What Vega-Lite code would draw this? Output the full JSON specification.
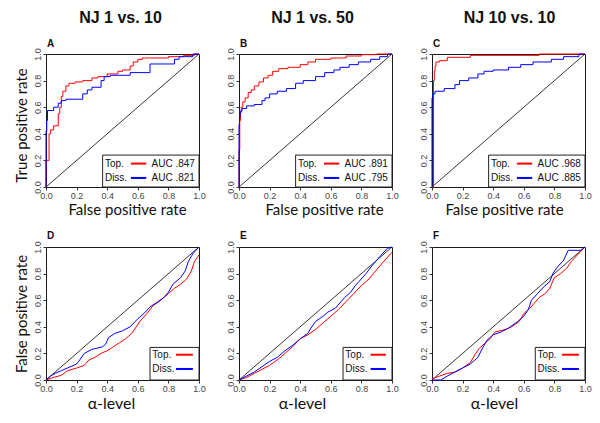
{
"$schema":"https://vega.github.io/schema/vega-lite/v6.json",
"padding":{"left":13,"top":9,"right":9,"bottom":13},
"background":"white",
"datasets":{"roc":[
{"p":"A","s":"Top.","x":0,"y":0},{"p":"A","s":"Top.","x":0.02,"y":0.2},{"p":"A","s":"Top.","x":0.03,"y":0.4},{"p":"A","s":"Top.","x":0.05,"y":0.43},{"p":"A","s":"Top.","x":0.08,"y":0.46},{"p":"A","s":"Top.","x":0.09,"y":0.55},{"p":"A","s":"Top.","x":0.1,"y":0.6},{"p":"A","s":"Top.","x":0.11,"y":0.68},{"p":"A","s":"Top.","x":0.13,"y":0.72},{"p":"A","s":"Top.","x":0.15,"y":0.76},{"p":"A","s":"Top.","x":0.19,"y":0.78},{"p":"A","s":"Top.","x":0.24,"y":0.79},{"p":"A","s":"Top.","x":0.3,"y":0.8},{"p":"A","s":"Top.","x":0.34,"y":0.82},{"p":"A","s":"Top.","x":0.4,"y":0.83},{"p":"A","s":"Top.","x":0.47,"y":0.85},{"p":"A","s":"Top.","x":0.5,"y":0.87},{"p":"A","s":"Top.","x":0.55,"y":0.88},{"p":"A","s":"Top.","x":0.57,"y":0.91},{"p":"A","s":"Top.","x":0.6,"y":0.94},{"p":"A","s":"Top.","x":0.63,"y":0.96},{"p":"A","s":"Top.","x":0.8,"y":0.97},{"p":"A","s":"Top.","x":0.9,"y":0.98},{"p":"A","s":"Top.","x":0.97,"y":0.99},{"p":"A","s":"Top.","x":1,"y":1},
{"p":"A","s":"Diss.","x":0,"y":0},{"p":"A","s":"Diss.","x":0.005,"y":0.42},{"p":"A","s":"Diss.","x":0.01,"y":0.5},{"p":"A","s":"Diss.","x":0.05,"y":0.575},{"p":"A","s":"Diss.","x":0.08,"y":0.6},{"p":"A","s":"Diss.","x":0.1,"y":0.63},{"p":"A","s":"Diss.","x":0.13,"y":0.65},{"p":"A","s":"Diss.","x":0.24,"y":0.66},{"p":"A","s":"Diss.","x":0.27,"y":0.7},{"p":"A","s":"Diss.","x":0.3,"y":0.73},{"p":"A","s":"Diss.","x":0.36,"y":0.75},{"p":"A","s":"Diss.","x":0.38,"y":0.8},{"p":"A","s":"Diss.","x":0.42,"y":0.83},{"p":"A","s":"Diss.","x":0.55,"y":0.84},{"p":"A","s":"Diss.","x":0.68,"y":0.86},{"p":"A","s":"Diss.","x":0.84,"y":0.925},{"p":"A","s":"Diss.","x":0.87,"y":0.96},{"p":"A","s":"Diss.","x":0.96,"y":0.98},{"p":"A","s":"Diss.","x":1,"y":1},
{"p":"B","s":"Top.","x":0,"y":0},{"p":"B","s":"Top.","x":0.005,"y":0.28},{"p":"B","s":"Top.","x":0.01,"y":0.5},{"p":"B","s":"Top.","x":0.015,"y":0.56},{"p":"B","s":"Top.","x":0.025,"y":0.6},{"p":"B","s":"Top.","x":0.04,"y":0.64},{"p":"B","s":"Top.","x":0.06,"y":0.67},{"p":"B","s":"Top.","x":0.08,"y":0.71},{"p":"B","s":"Top.","x":0.1,"y":0.73},{"p":"B","s":"Top.","x":0.13,"y":0.76},{"p":"B","s":"Top.","x":0.16,"y":0.79},{"p":"B","s":"Top.","x":0.19,"y":0.82},{"p":"B","s":"Top.","x":0.22,"y":0.84},{"p":"B","s":"Top.","x":0.26,"y":0.87},{"p":"B","s":"Top.","x":0.32,"y":0.89},{"p":"B","s":"Top.","x":0.4,"y":0.9},{"p":"B","s":"Top.","x":0.45,"y":0.92},{"p":"B","s":"Top.","x":0.5,"y":0.94},{"p":"B","s":"Top.","x":0.6,"y":0.96},{"p":"B","s":"Top.","x":0.7,"y":0.97},{"p":"B","s":"Top.","x":0.8,"y":0.985},{"p":"B","s":"Top.","x":0.9,"y":0.995},{"p":"B","s":"Top.","x":1,"y":1},
{"p":"B","s":"Diss.","x":0,"y":0},{"p":"B","s":"Diss.","x":0.003,"y":0.47},{"p":"B","s":"Diss.","x":0.008,"y":0.53},{"p":"B","s":"Diss.","x":0.02,"y":0.57},{"p":"B","s":"Diss.","x":0.05,"y":0.59},{"p":"B","s":"Diss.","x":0.1,"y":0.61},{"p":"B","s":"Diss.","x":0.15,"y":0.62},{"p":"B","s":"Diss.","x":0.17,"y":0.65},{"p":"B","s":"Diss.","x":0.2,"y":0.67},{"p":"B","s":"Diss.","x":0.25,"y":0.7},{"p":"B","s":"Diss.","x":0.31,"y":0.72},{"p":"B","s":"Diss.","x":0.37,"y":0.74},{"p":"B","s":"Diss.","x":0.42,"y":0.78},{"p":"B","s":"Diss.","x":0.5,"y":0.8},{"p":"B","s":"Diss.","x":0.56,"y":0.83},{"p":"B","s":"Diss.","x":0.62,"y":0.86},{"p":"B","s":"Diss.","x":0.66,"y":0.88},{"p":"B","s":"Diss.","x":0.72,"y":0.9},{"p":"B","s":"Diss.","x":0.78,"y":0.92},{"p":"B","s":"Diss.","x":0.86,"y":0.94},{"p":"B","s":"Diss.","x":0.92,"y":0.96},{"p":"B","s":"Diss.","x":0.97,"y":0.98},{"p":"B","s":"Diss.","x":1,"y":1},
{"p":"C","s":"Top.","x":0,"y":0},{"p":"C","s":"Top.","x":0.01,"y":0},{"p":"C","s":"Top.","x":0.015,"y":0.8},{"p":"C","s":"Top.","x":0.02,"y":0.87},{"p":"C","s":"Top.","x":0.026,"y":0.91},{"p":"C","s":"Top.","x":0.05,"y":0.94},{"p":"C","s":"Top.","x":0.1,"y":0.95},{"p":"C","s":"Top.","x":0.25,"y":0.975},{"p":"C","s":"Top.","x":0.7,"y":0.99},{"p":"C","s":"Top.","x":1,"y":1},
{"p":"C","s":"Diss.","x":0,"y":0},{"p":"C","s":"Diss.","x":0.005,"y":0.67},{"p":"C","s":"Diss.","x":0.02,"y":0.7},{"p":"C","s":"Diss.","x":0.08,"y":0.72},{"p":"C","s":"Diss.","x":0.15,"y":0.74},{"p":"C","s":"Diss.","x":0.18,"y":0.77},{"p":"C","s":"Diss.","x":0.24,"y":0.8},{"p":"C","s":"Diss.","x":0.3,"y":0.82},{"p":"C","s":"Diss.","x":0.34,"y":0.85},{"p":"C","s":"Diss.","x":0.4,"y":0.87},{"p":"C","s":"Diss.","x":0.5,"y":0.88},{"p":"C","s":"Diss.","x":0.58,"y":0.9},{"p":"C","s":"Diss.","x":0.66,"y":0.92},{"p":"C","s":"Diss.","x":0.78,"y":0.94},{"p":"C","s":"Diss.","x":0.86,"y":0.96},{"p":"C","s":"Diss.","x":0.96,"y":0.98},{"p":"C","s":"Diss.","x":1,"y":1},
{"p":"D","s":"Top.","x":0,"y":0},{"p":"D","s":"Top.","x":0.05,"y":0.02},{"p":"D","s":"Top.","x":0.1,"y":0.035},{"p":"D","s":"Top.","x":0.14,"y":0.07},{"p":"D","s":"Top.","x":0.2,"y":0.09},{"p":"D","s":"Top.","x":0.25,"y":0.11},{"p":"D","s":"Top.","x":0.28,"y":0.15},{"p":"D","s":"Top.","x":0.32,"y":0.17},{"p":"D","s":"Top.","x":0.36,"y":0.2},{"p":"D","s":"Top.","x":0.4,"y":0.22},{"p":"D","s":"Top.","x":0.44,"y":0.25},{"p":"D","s":"Top.","x":0.48,"y":0.28},{"p":"D","s":"Top.","x":0.52,"y":0.31},{"p":"D","s":"Top.","x":0.56,"y":0.35},{"p":"D","s":"Top.","x":0.59,"y":0.4},{"p":"D","s":"Top.","x":0.62,"y":0.45},{"p":"D","s":"Top.","x":0.66,"y":0.5},{"p":"D","s":"Top.","x":0.7,"y":0.56},{"p":"D","s":"Top.","x":0.74,"y":0.59},{"p":"D","s":"Top.","x":0.8,"y":0.65},{"p":"D","s":"Top.","x":0.84,"y":0.69},{"p":"D","s":"Top.","x":0.88,"y":0.72},{"p":"D","s":"Top.","x":0.92,"y":0.76},{"p":"D","s":"Top.","x":0.95,"y":0.82},{"p":"D","s":"Top.","x":0.97,"y":0.89},{"p":"D","s":"Top.","x":1,"y":0.94},
{"p":"D","s":"Diss.","x":0,"y":0},{"p":"D","s":"Diss.","x":0.03,"y":0.03},{"p":"D","s":"Diss.","x":0.06,"y":0.05},{"p":"D","s":"Diss.","x":0.1,"y":0.07},{"p":"D","s":"Diss.","x":0.14,"y":0.09},{"p":"D","s":"Diss.","x":0.2,"y":0.12},{"p":"D","s":"Diss.","x":0.22,"y":0.15},{"p":"D","s":"Diss.","x":0.25,"y":0.2},{"p":"D","s":"Diss.","x":0.3,"y":0.23},{"p":"D","s":"Diss.","x":0.37,"y":0.25},{"p":"D","s":"Diss.","x":0.39,"y":0.27},{"p":"D","s":"Diss.","x":0.41,"y":0.32},{"p":"D","s":"Diss.","x":0.45,"y":0.35},{"p":"D","s":"Diss.","x":0.5,"y":0.37},{"p":"D","s":"Diss.","x":0.55,"y":0.4},{"p":"D","s":"Diss.","x":0.6,"y":0.46},{"p":"D","s":"Diss.","x":0.64,"y":0.5},{"p":"D","s":"Diss.","x":0.68,"y":0.55},{"p":"D","s":"Diss.","x":0.72,"y":0.58},{"p":"D","s":"Diss.","x":0.77,"y":0.62},{"p":"D","s":"Diss.","x":0.8,"y":0.66},{"p":"D","s":"Diss.","x":0.83,"y":0.72},{"p":"D","s":"Diss.","x":0.88,"y":0.77},{"p":"D","s":"Diss.","x":0.91,"y":0.82},{"p":"D","s":"Diss.","x":0.93,"y":0.89},{"p":"D","s":"Diss.","x":0.96,"y":0.95},{"p":"D","s":"Diss.","x":1,"y":1},
{"p":"E","s":"Top.","x":0,"y":0},{"p":"E","s":"Top.","x":0.05,"y":0.02},{"p":"E","s":"Top.","x":0.1,"y":0.05},{"p":"E","s":"Top.","x":0.15,"y":0.08},{"p":"E","s":"Top.","x":0.2,"y":0.11},{"p":"E","s":"Top.","x":0.26,"y":0.16},{"p":"E","s":"Top.","x":0.3,"y":0.2},{"p":"E","s":"Top.","x":0.35,"y":0.25},{"p":"E","s":"Top.","x":0.4,"y":0.31},{"p":"E","s":"Top.","x":0.45,"y":0.34},{"p":"E","s":"Top.","x":0.5,"y":0.38},{"p":"E","s":"Top.","x":0.55,"y":0.43},{"p":"E","s":"Top.","x":0.6,"y":0.48},{"p":"E","s":"Top.","x":0.65,"y":0.53},{"p":"E","s":"Top.","x":0.7,"y":0.59},{"p":"E","s":"Top.","x":0.75,"y":0.65},{"p":"E","s":"Top.","x":0.8,"y":0.71},{"p":"E","s":"Top.","x":0.85,"y":0.76},{"p":"E","s":"Top.","x":0.9,"y":0.83},{"p":"E","s":"Top.","x":0.93,"y":0.87},{"p":"E","s":"Top.","x":0.96,"y":0.91},{"p":"E","s":"Top.","x":1,"y":0.96},
{"p":"E","s":"Diss.","x":0,"y":0},{"p":"E","s":"Diss.","x":0.05,"y":0.03},{"p":"E","s":"Diss.","x":0.1,"y":0.06},{"p":"E","s":"Diss.","x":0.15,"y":0.1},{"p":"E","s":"Diss.","x":0.2,"y":0.14},{"p":"E","s":"Diss.","x":0.25,"y":0.17},{"p":"E","s":"Diss.","x":0.3,"y":0.22},{"p":"E","s":"Diss.","x":0.35,"y":0.26},{"p":"E","s":"Diss.","x":0.4,"y":0.31},{"p":"E","s":"Diss.","x":0.45,"y":0.35},{"p":"E","s":"Diss.","x":0.47,"y":0.39},{"p":"E","s":"Diss.","x":0.5,"y":0.44},{"p":"E","s":"Diss.","x":0.55,"y":0.48},{"p":"E","s":"Diss.","x":0.58,"y":0.51},{"p":"E","s":"Diss.","x":0.63,"y":0.54},{"p":"E","s":"Diss.","x":0.66,"y":0.58},{"p":"E","s":"Diss.","x":0.69,"y":0.62},{"p":"E","s":"Diss.","x":0.73,"y":0.66},{"p":"E","s":"Diss.","x":0.76,"y":0.71},{"p":"E","s":"Diss.","x":0.8,"y":0.76},{"p":"E","s":"Diss.","x":0.83,"y":0.8},{"p":"E","s":"Diss.","x":0.87,"y":0.86},{"p":"E","s":"Diss.","x":0.9,"y":0.9},{"p":"E","s":"Diss.","x":0.93,"y":0.94},{"p":"E","s":"Diss.","x":0.97,"y":0.99},{"p":"E","s":"Diss.","x":1,"y":1},
{"p":"F","s":"Top.","x":0,"y":0.01},{"p":"F","s":"Top.","x":0.05,"y":0.03},{"p":"F","s":"Top.","x":0.1,"y":0.05},{"p":"F","s":"Top.","x":0.15,"y":0.06},{"p":"F","s":"Top.","x":0.2,"y":0.09},{"p":"F","s":"Top.","x":0.25,"y":0.13},{"p":"F","s":"Top.","x":0.28,"y":0.19},{"p":"F","s":"Top.","x":0.31,"y":0.24},{"p":"F","s":"Top.","x":0.35,"y":0.28},{"p":"F","s":"Top.","x":0.38,"y":0.31},{"p":"F","s":"Top.","x":0.41,"y":0.36},{"p":"F","s":"Top.","x":0.48,"y":0.38},{"p":"F","s":"Top.","x":0.52,"y":0.4},{"p":"F","s":"Top.","x":0.57,"y":0.44},{"p":"F","s":"Top.","x":0.6,"y":0.5},{"p":"F","s":"Top.","x":0.64,"y":0.54},{"p":"F","s":"Top.","x":0.67,"y":0.58},{"p":"F","s":"Top.","x":0.7,"y":0.62},{"p":"F","s":"Top.","x":0.74,"y":0.65},{"p":"F","s":"Top.","x":0.77,"y":0.69},{"p":"F","s":"Top.","x":0.8,"y":0.77},{"p":"F","s":"Top.","x":0.84,"y":0.8},{"p":"F","s":"Top.","x":0.88,"y":0.84},{"p":"F","s":"Top.","x":0.91,"y":0.89},{"p":"F","s":"Top.","x":0.95,"y":0.94},{"p":"F","s":"Top.","x":1,"y":1},
{"p":"F","s":"Diss.","x":0,"y":0},{"p":"F","s":"Diss.","x":0.06,"y":0},{"p":"F","s":"Diss.","x":0.1,"y":0.03},{"p":"F","s":"Diss.","x":0.15,"y":0.06},{"p":"F","s":"Diss.","x":0.2,"y":0.09},{"p":"F","s":"Diss.","x":0.25,"y":0.12},{"p":"F","s":"Diss.","x":0.3,"y":0.17},{"p":"F","s":"Diss.","x":0.33,"y":0.24},{"p":"F","s":"Diss.","x":0.36,"y":0.3},{"p":"F","s":"Diss.","x":0.4,"y":0.34},{"p":"F","s":"Diss.","x":0.45,"y":0.36},{"p":"F","s":"Diss.","x":0.5,"y":0.39},{"p":"F","s":"Diss.","x":0.56,"y":0.44},{"p":"F","s":"Diss.","x":0.6,"y":0.48},{"p":"F","s":"Diss.","x":0.63,"y":0.53},{"p":"F","s":"Diss.","x":0.65,"y":0.6},{"p":"F","s":"Diss.","x":0.69,"y":0.65},{"p":"F","s":"Diss.","x":0.73,"y":0.7},{"p":"F","s":"Diss.","x":0.77,"y":0.74},{"p":"F","s":"Diss.","x":0.79,"y":0.8},{"p":"F","s":"Diss.","x":0.82,"y":0.85},{"p":"F","s":"Diss.","x":0.86,"y":0.9},{"p":"F","s":"Diss.","x":0.89,"y":0.975},{"p":"F","s":"Diss.","x":0.97,"y":0.975},{"p":"F","s":"Diss.","x":1,"y":1}
]},
"columns":3,
"spacing":{"row":60,"column":40},
"bounds":"flush",
"concat":[
{"width":153,"height":133,"data":{"values":[{}]},"layer":[
 {"mark":{"type":"rule","color":"#000","strokeWidth":0.8},"encoding":{"x":{"datum":0},"y":{"datum":0},"x2":{"datum":1},"y2":{"datum":1}}},
 {"data":{"name":"roc"},"transform":[{"filter":"datum.p=='A'"}],"mark":{"type":"line","interpolate":"step-before","strokeWidth":1},"encoding":{
  "x":{"field":"x","type":"quantitative","scale":{"domain":[0,1],"nice":false,"zero":false},"axis":{"title":"False positive rate","titleX":81,"format":".1f","tickCount":5}},
  "y":{"field":"y","type":"quantitative","scale":{"domain":[0,1],"nice":false,"zero":false},"axis":{"title":"True positive rate","titleY":71,"format":".1f","tickCount":5}},
  "color":{"field":"s","type":"nominal","scale":{"domain":["Top.","Diss."],"range":["#ff0000","#0000ff"]},"legend":null}}},
 {"mark":{"type":"rect","fill":"white","stroke":"#222","strokeWidth":1},"encoding":{"x":{"datum":0.37},"x2":{"datum":1},"y":{"datum":0},"y2":{"datum":0.24}}},
 {"mark":{"type":"text","text":"Top."},"encoding":{"x":{"datum":0.385},"y":{"datum":0.176}}},
 {"mark":{"type":"text","text":"Diss."},"encoding":{"x":{"datum":0.385},"y":{"datum":0.068}}},
 {"mark":{"type":"text","text":"AUC\u00a0.847"},"encoding":{"x":{"datum":0.69},"y":{"datum":0.176}}},
 {"mark":{"type":"text","text":"AUC\u00a0.821"},"encoding":{"x":{"datum":0.69},"y":{"datum":0.068}}},
 {"mark":{"type":"rule","color":"#ff0000","strokeWidth":2},"encoding":{"x":{"datum":0.555},"x2":{"datum":0.655},"y":{"datum":0.176}}},
 {"mark":{"type":"rule","color":"#0000ff","strokeWidth":2},"encoding":{"x":{"datum":0.555},"x2":{"datum":0.655},"y":{"datum":0.068}}},
 {"mark":{"type":"text","text":"NJ 1 vs. 10","align":"center","fontSize":16,"fontWeight":"bold","dy":-36,"dx":-2},"encoding":{"x":{"datum":0.5},"y":{"datum":1}}},
 {"mark":{"type":"text","text":"A","fontSize":10,"fontWeight":"bold","dx":1,"dy":-10},"encoding":{"x":{"datum":0},"y":{"datum":1}}}
]},
{"width":153,"height":133,"data":{"values":[{}]},"layer":[
 {"mark":{"type":"rule","color":"#000","strokeWidth":0.8},"encoding":{"x":{"datum":0},"y":{"datum":0},"x2":{"datum":1},"y2":{"datum":1}}},
 {"data":{"name":"roc"},"transform":[{"filter":"datum.p=='B'"}],"mark":{"type":"line","interpolate":"step-before","strokeWidth":1},"encoding":{
  "x":{"field":"x","type":"quantitative","scale":{"domain":[0,1],"nice":false,"zero":false},"axis":{"title":"False positive rate","titleX":85,"format":".1f","tickCount":5}},
  "y":{"field":"y","type":"quantitative","scale":{"domain":[0,1],"nice":false,"zero":false},"axis":{"title":null,"format":".1f","tickCount":5}},
  "color":{"field":"s","type":"nominal","scale":{"domain":["Top.","Diss."],"range":["#ff0000","#0000ff"]},"legend":null}}},
 {"mark":{"type":"rect","fill":"white","stroke":"#222","strokeWidth":1},"encoding":{"x":{"datum":0.37},"x2":{"datum":1},"y":{"datum":0},"y2":{"datum":0.24}}},
 {"mark":{"type":"text","text":"Top."},"encoding":{"x":{"datum":0.385},"y":{"datum":0.176}}},
 {"mark":{"type":"text","text":"Diss."},"encoding":{"x":{"datum":0.385},"y":{"datum":0.068}}},
 {"mark":{"type":"text","text":"AUC\u00a0.891"},"encoding":{"x":{"datum":0.69},"y":{"datum":0.176}}},
 {"mark":{"type":"text","text":"AUC\u00a0.795"},"encoding":{"x":{"datum":0.69},"y":{"datum":0.068}}},
 {"mark":{"type":"rule","color":"#ff0000","strokeWidth":2},"encoding":{"x":{"datum":0.555},"x2":{"datum":0.655},"y":{"datum":0.176}}},
 {"mark":{"type":"rule","color":"#0000ff","strokeWidth":2},"encoding":{"x":{"datum":0.555},"x2":{"datum":0.655},"y":{"datum":0.068}}},
 {"mark":{"type":"text","text":"NJ 1 vs. 50","align":"center","fontSize":16,"fontWeight":"bold","dy":-36,"dx":-3},"encoding":{"x":{"datum":0.5},"y":{"datum":1}}},
 {"mark":{"type":"text","text":"B","fontSize":10,"fontWeight":"bold","dx":1,"dy":-10},"encoding":{"x":{"datum":0},"y":{"datum":1}}}
]},
{"width":153,"height":133,"data":{"values":[{}]},"layer":[
 {"mark":{"type":"rule","color":"#000","strokeWidth":0.8},"encoding":{"x":{"datum":0},"y":{"datum":0},"x2":{"datum":1},"y2":{"datum":1}}},
 {"data":{"name":"roc"},"transform":[{"filter":"datum.p=='C'"}],"mark":{"type":"line","interpolate":"step-before","strokeWidth":1},"encoding":{
  "x":{"field":"x","type":"quantitative","scale":{"domain":[0,1],"nice":false,"zero":false},"axis":{"title":"False positive rate","titleX":72,"format":".1f","tickCount":5}},
  "y":{"field":"y","type":"quantitative","scale":{"domain":[0,1],"nice":false,"zero":false},"axis":{"title":null,"format":".1f","tickCount":5}},
  "color":{"field":"s","type":"nominal","scale":{"domain":["Top.","Diss."],"range":["#ff0000","#0000ff"]},"legend":null}}},
 {"mark":{"type":"rect","fill":"white","stroke":"#222","strokeWidth":1},"encoding":{"x":{"datum":0.37},"x2":{"datum":1},"y":{"datum":0},"y2":{"datum":0.24}}},
 {"mark":{"type":"text","text":"Top."},"encoding":{"x":{"datum":0.385},"y":{"datum":0.176}}},
 {"mark":{"type":"text","text":"Diss."},"encoding":{"x":{"datum":0.385},"y":{"datum":0.068}}},
 {"mark":{"type":"text","text":"AUC\u00a0.968"},"encoding":{"x":{"datum":0.69},"y":{"datum":0.176}}},
 {"mark":{"type":"text","text":"AUC\u00a0.885"},"encoding":{"x":{"datum":0.69},"y":{"datum":0.068}}},
 {"mark":{"type":"rule","color":"#ff0000","strokeWidth":2},"encoding":{"x":{"datum":0.555},"x2":{"datum":0.655},"y":{"datum":0.176}}},
 {"mark":{"type":"rule","color":"#0000ff","strokeWidth":2},"encoding":{"x":{"datum":0.555},"x2":{"datum":0.655},"y":{"datum":0.068}}},
 {"mark":{"type":"text","text":"NJ 10 vs. 10","align":"center","fontSize":16,"fontWeight":"bold","dy":-36,"dx":1},"encoding":{"x":{"datum":0.5},"y":{"datum":1}}},
 {"mark":{"type":"text","text":"C","fontSize":10,"fontWeight":"bold","dx":1,"dy":-10},"encoding":{"x":{"datum":0},"y":{"datum":1}}}
]},
{"width":153,"height":133,"data":{"values":[{}]},"layer":[
 {"mark":{"type":"rule","color":"#000","strokeWidth":0.8},"encoding":{"x":{"datum":0},"y":{"datum":0},"x2":{"datum":1},"y2":{"datum":1}}},
 {"data":{"name":"roc"},"transform":[{"filter":"datum.p=='D'"}],"mark":{"type":"line","interpolate":"linear","strokeWidth":1},"encoding":{
  "x":{"field":"x","type":"quantitative","scale":{"domain":[0,1],"nice":false,"zero":false},"axis":{"title":"α-level","titleX":65,"titleFontSize":16,"format":".1f","tickCount":5}},
  "y":{"field":"y","type":"quantitative","scale":{"domain":[0,1],"nice":false,"zero":false},"axis":{"title":"False positive rate","format":".1f","tickCount":5}},
  "color":{"field":"s","type":"nominal","scale":{"domain":["Top.","Diss."],"range":["#ff0000","#0000ff"]},"legend":null}}},
 {"mark":{"type":"rect","fill":"white","stroke":"#222","strokeWidth":1},"encoding":{"x":{"datum":0.68},"x2":{"datum":1},"y":{"datum":0},"y2":{"datum":0.245}}},
 {"mark":{"type":"text","text":"Top."},"encoding":{"x":{"datum":0.695},"y":{"datum":0.19}}},
 {"mark":{"type":"text","text":"Diss."},"encoding":{"x":{"datum":0.695},"y":{"datum":0.083}}},
 {"mark":{"type":"rule","color":"#ff0000","strokeWidth":2},"encoding":{"x":{"datum":0.85},"x2":{"datum":0.96},"y":{"datum":0.19}}},
 {"mark":{"type":"rule","color":"#0000ff","strokeWidth":2},"encoding":{"x":{"datum":0.85},"x2":{"datum":0.96},"y":{"datum":0.083}}},
 {"mark":{"type":"text","text":"D","fontSize":10,"fontWeight":"bold","dx":1,"dy":-11},"encoding":{"x":{"datum":0},"y":{"datum":1}}}
]},
{"width":153,"height":133,"data":{"values":[{}]},"layer":[
 {"mark":{"type":"rule","color":"#000","strokeWidth":0.8},"encoding":{"x":{"datum":0},"y":{"datum":0},"x2":{"datum":1},"y2":{"datum":1}}},
 {"data":{"name":"roc"},"transform":[{"filter":"datum.p=='E'"}],"mark":{"type":"line","interpolate":"linear","strokeWidth":1},"encoding":{
  "x":{"field":"x","type":"quantitative","scale":{"domain":[0,1],"nice":false,"zero":false},"axis":{"title":"α-level","titleX":63,"titleFontSize":16,"format":".1f","tickCount":5}},
  "y":{"field":"y","type":"quantitative","scale":{"domain":[0,1],"nice":false,"zero":false},"axis":{"title":null,"format":".1f","tickCount":5}},
  "color":{"field":"s","type":"nominal","scale":{"domain":["Top.","Diss."],"range":["#ff0000","#0000ff"]},"legend":null}}},
 {"mark":{"type":"rect","fill":"white","stroke":"#222","strokeWidth":1},"encoding":{"x":{"datum":0.68},"x2":{"datum":1},"y":{"datum":0},"y2":{"datum":0.245}}},
 {"mark":{"type":"text","text":"Top."},"encoding":{"x":{"datum":0.695},"y":{"datum":0.19}}},
 {"mark":{"type":"text","text":"Diss."},"encoding":{"x":{"datum":0.695},"y":{"datum":0.083}}},
 {"mark":{"type":"rule","color":"#ff0000","strokeWidth":2},"encoding":{"x":{"datum":0.86},"x2":{"datum":0.96},"y":{"datum":0.19}}},
 {"mark":{"type":"rule","color":"#0000ff","strokeWidth":2},"encoding":{"x":{"datum":0.86},"x2":{"datum":0.96},"y":{"datum":0.083}}},
 {"mark":{"type":"text","text":"E","fontSize":10,"fontWeight":"bold","dx":1,"dy":-11},"encoding":{"x":{"datum":0},"y":{"datum":1}}}
]},
{"width":153,"height":133,"data":{"values":[{}]},"layer":[
 {"mark":{"type":"rule","color":"#000","strokeWidth":0.8},"encoding":{"x":{"datum":0},"y":{"datum":0},"x2":{"datum":1},"y2":{"datum":1}}},
 {"data":{"name":"roc"},"transform":[{"filter":"datum.p=='F'"}],"mark":{"type":"line","interpolate":"linear","strokeWidth":1},"encoding":{
  "x":{"field":"x","type":"quantitative","scale":{"domain":[0,1],"nice":false,"zero":false},"axis":{"title":"α-level","titleX":62,"titleFontSize":16,"format":".1f","tickCount":5}},
  "y":{"field":"y","type":"quantitative","scale":{"domain":[0,1],"nice":false,"zero":false},"axis":{"title":null,"format":".1f","tickCount":5}},
  "color":{"field":"s","type":"nominal","scale":{"domain":["Top.","Diss."],"range":["#ff0000","#0000ff"]},"legend":null}}},
 {"mark":{"type":"rect","fill":"white","stroke":"#222","strokeWidth":1},"encoding":{"x":{"datum":0.675},"x2":{"datum":1},"y":{"datum":0},"y2":{"datum":0.245}}},
 {"mark":{"type":"text","text":"Top."},"encoding":{"x":{"datum":0.69},"y":{"datum":0.19}}},
 {"mark":{"type":"text","text":"Diss."},"encoding":{"x":{"datum":0.69},"y":{"datum":0.083}}},
 {"mark":{"type":"rule","color":"#ff0000","strokeWidth":2},"encoding":{"x":{"datum":0.85},"x2":{"datum":0.96},"y":{"datum":0.19}}},
 {"mark":{"type":"rule","color":"#0000ff","strokeWidth":2},"encoding":{"x":{"datum":0.85},"x2":{"datum":0.96},"y":{"datum":0.083}}},
 {"mark":{"type":"text","text":"F","fontSize":10,"fontWeight":"bold","dx":1,"dy":-11},"encoding":{"x":{"datum":0},"y":{"datum":1}}}
]}
],
"config":{
 "view":{"stroke":"#1a1a1a","strokeWidth":1},
 "axis":{"domain":false,"grid":false,"ticks":true,"tickColor":"#333","tickSize":3,"labelFont":"Liberation Sans","labelFontSize":9,"labelColor":"#444","labelPadding":1,"labelFlush":false,"labelOverlap":false,"titleFont":"Lato","titleFontSize":15,"titleFontWeight":"normal","titleColor":"#111","titlePadding":2},
 "axisY":{"labelAngle":270,"labelAlign":"center","labelBaseline":"bottom","titlePadding":4},
 "text":{"font":"Liberation Sans","fontSize":10,"align":"left","baseline":"middle","color":"#111"}
}
}
